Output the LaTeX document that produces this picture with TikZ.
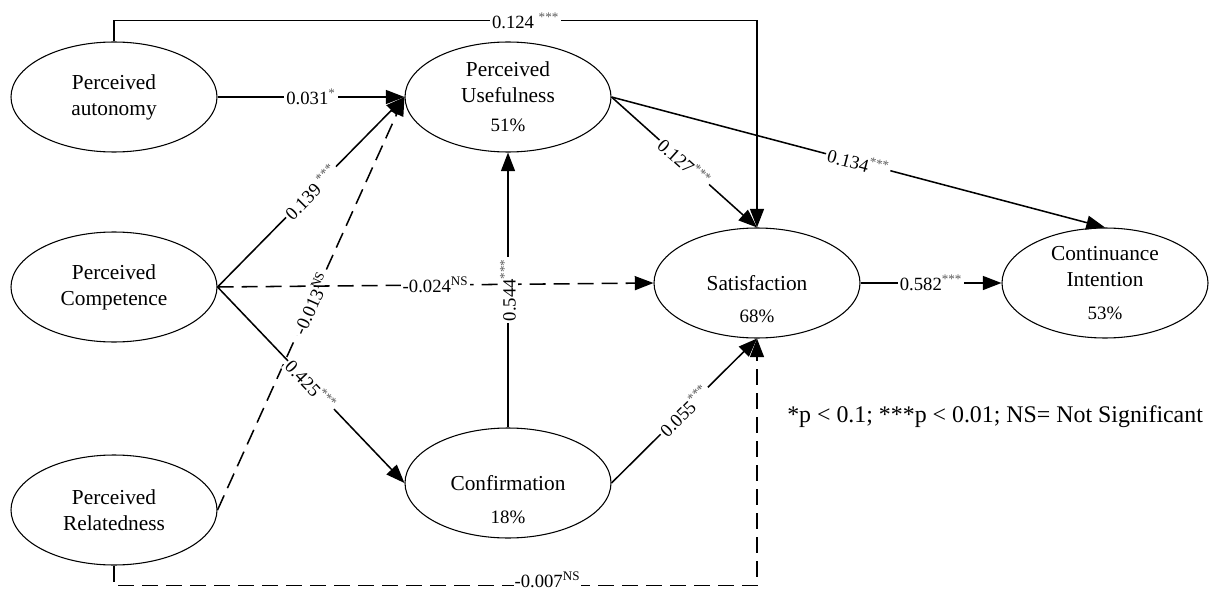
\documentclass[tikz,border=0pt]{standalone}
\usepackage{fontspec}
\setmainfont{Liberation Serif}
\usetikzlibrary{shapes.geometric,arrows.meta}
\newcommand{\stars}[1]{\textsuperscript{\color{black!65}#1}}
\newcommand{\ns}{\textsuperscript{NS}}
\newcommand{\pctfont}{\fontsize{14.2}{16}\selectfont}
\begin{document}
\begin{tikzpicture}[x=0.75pt,y=-0.75pt,
  latent/.style={draw,ellipse,line width=0.8pt,minimum width=154.5pt,minimum height=82.5pt,inner sep=0pt,align=center,font=\fontsize{16}{19.5}\selectfont},
  pct/.style={font=\pctfont,inner sep=0pt},
  effect/.style={line width=1.15pt,-{Triangle[length=14pt,width=10.5pt]}},
  nseffect/.style={effect,dash pattern=on 12pt off 6pt},
  lbl/.style={fill=white,inner sep=1.5pt,font=\fontsize{14}{15}\selectfont}]
\useasboundingbox (0,0) rectangle (1214,592);
% constructs
\node[latent] (aut) at (114,97) {Perceived\\autonomy};
\node[latent] (comp) at (114,287) {Perceived\\Competence};
\node[latent] (rel) at (114,510) {Perceived\\Relatedness};
\node[latent] (pu) at (508,97) {Perceived\\Usefulness\\[2pt]{\pctfont 51\%}};
\node[latent] (conf) at (508,483) {Confirmation};
\node[latent] (sat) at (757,283) {Satisfaction};
\node[latent] (cont) at (1105,283) {Continuance\\Intention\\[5pt]{\pctfont 53\%}};
\node[pct] (confp) at (508,517) {18\%};
\node[pct] (satp) at (757,316) {68\%};
% paths
\draw[effect] (aut) -- node[lbl] {0.031\stars{*}} (pu);
\draw[effect] (aut.north) -- ++(0,-21) -| node[lbl,pos=0.32] {0.124 \stars{***}} (sat.north);
\draw[effect] (comp.east) -- node[lbl,sloped] {0.139 \stars{***}} (pu.west);
\draw[nseffect] (rel.east) -- node[lbl,sloped] {-0.013\ns} (pu.west);
\draw[nseffect] (comp.east) -- node[lbl] {-0.024\ns} (sat.west);
\draw[effect] (comp.east) -- node[lbl,sloped] {0.425\stars{***}} (conf.west);
\draw[effect] (conf) -- node[lbl,sloped] {0.544\stars{***}} (pu);
\draw[effect] (pu.east) -- node[lbl,sloped] {0.127\stars{***}} (sat.north);
\draw[effect] (pu.east) -- node[lbl,sloped] {0.134\stars{***}} (cont.north);
\draw[effect] (sat) -- node[lbl] {0.582\stars{***}} (cont);
\draw[effect] (conf.east) -- node[lbl,sloped] {0.055\stars{***}} (sat.south);
\draw[nseffect] (rel.south) -- ++(0,20) -| node[lbl,pos=0.337,inner sep=0.5pt,yshift=4pt] {-0.007\ns} (sat.south);
% legend
\node[anchor=west,inner sep=0pt,font=\fontsize{17.9}{20}\selectfont] (note) at (787,417) {*p < 0.1; ***p < 0.01; NS= Not Significant};
\end{tikzpicture}
\end{document}
